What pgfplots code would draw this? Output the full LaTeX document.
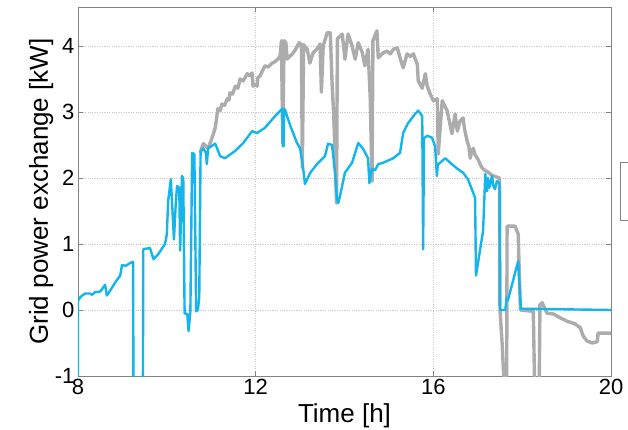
\documentclass[border=0pt]{standalone}
\usepackage{pgfplots}
\pgfplotsset{compat=1.18}
\usepackage{fontspec}
\setmainfont{Liberation Sans}
\definecolor{cblue}{RGB}{20,180,236}
\definecolor{cgray}{RGB}{172,172,172}
\definecolor{cframe}{RGB}{130,130,130}
\begin{document}
\begin{tikzpicture}
\useasboundingbox (-78pt,-53pt) rectangle (550pt,376pt);
\begin{axis}[
  name=ax,
  at={(0,0)}, anchor=south west,
  scale only axis, width=533pt, height=369pt,
  xmin=8, xmax=20, ymin=-1, ymax=4.59,
  xtick={8,12,16,20}, ytick={-1,0,1,2,3,4},
  grid=major,
  major grid style={dotted, gray!45, line width=0.6pt},
  axis line style={cframe, line width=0.8pt},
  tick style={cframe, line width=0.8pt},
  tick align=inside, major tick length=5pt,
  ticklabel style={font=\fontsize{22}{22}\selectfont, text=black},
  /pgf/number format/assume math mode=true,
  xlabel={Time [h]},
  ylabel={Grid power exchange [kW]},
  label style={font=\fontsize{26}{26}\selectfont},
  xlabel style={at={([yshift=-46pt]axis description cs:0.5,0)}, anchor=base},
  ylabel style={at={([xshift=-30pt]axis description cs:0,0.5)}, anchor=base, rotate=0},
  clip=true,
]
\addplot[cgray, line width=3.4pt, line join=round] coordinates {
(10.75,2.38) (10.82,2.52) (10.93,2.45) (11.02,2.61) (11.09,2.76) (11.15,3.05)
(11.20,3.02) (11.24,3.12) (11.30,3.10) (11.36,3.20) (11.40,3.18) (11.42,3.29)
(11.48,3.27) (11.54,3.39) (11.60,3.36) (11.65,3.50) (11.72,3.47) (11.81,3.58)
(11.86,3.55) (11.92,3.59) (11.94,3.39) (12.00,3.42) (12.03,3.39) (12.05,3.52)
(12.10,3.55) (12.15,3.62) (12.21,3.70) (12.28,3.68) (12.37,3.74) (12.43,3.76)
(12.50,3.80) (12.55,3.85) (12.58,4.08) (12.61,2.52) (12.64,4.08) (12.68,4.05) (12.71,3.80)
(12.78,3.85) (12.84,3.89) (12.90,3.95) (12.98,4.05) (13.03,4.02) (13.05,2.15) (13.08,4.02) (13.16,3.95)
(13.22,3.74) (13.29,3.89) (13.40,3.97) (13.45,4.03) (13.48,3.30) (13.52,4.00)
(13.61,4.20) (13.68,4.20) (13.72,3.44) (13.76,2.91) (13.82,1.62) (13.84,4.11)
(13.95,4.18) (14.01,3.80) (14.08,4.18) (14.17,4.00) (14.24,3.80) (14.31,4.05)
(14.40,3.90) (14.46,3.70) (14.53,3.95) (14.58,3.20) (14.62,1.95) (14.64,4.08)
(14.73,4.23) (14.76,3.82) (14.80,3.85) (14.88,3.90) (14.96,3.92) (15.03,3.88) (15.10,3.95) (15.19,3.97)
(15.25,3.82) (15.32,3.67) (15.41,3.88) (15.48,3.84) (15.55,3.88) (15.64,3.72) (15.66,3.47)
(15.75,3.36) (15.82,3.58) (15.86,3.40) (15.93,3.27) (16.00,3.17) (16.09,3.20)
(16.11,2.36) (16.20,3.17) (16.31,3.02) (16.42,2.67) (16.49,2.97) (16.54,2.71)
(16.60,2.86) (16.67,2.91) (16.70,2.75) (16.76,2.56) (16.80,2.48) (16.83,2.30)
(16.87,2.42) (16.90,2.45) (16.94,2.35) (16.99,2.30) (17.03,2.25) (17.05,2.21)
(17.10,2.15) (17.17,2.11) (17.25,2.08) (17.30,2.05) (17.40,2.02) (17.49,2.00)
(17.50,0.0) (17.55,-0.52)
(17.62,-1.5) (17.65,-1.5) (17.66,1.27) (17.84,1.27) (17.91,1.15) (17.96,0.0)
(18.25,-0.02) (18.29,-1.5) (18.38,-1.5) (18.40,0.08) (18.45,0.11) (18.56,-0.05)
(18.70,-0.06) (18.86,-0.12) (19.01,-0.17) (19.19,-0.21) (19.31,-0.27) (19.37,-0.39)
(19.46,-0.47) (19.58,-0.50) (19.69,-0.48) (19.71,-0.35) (20.0,-0.35)
};
\addplot[cblue, line width=2.4pt, line join=round] coordinates {
(8.00,-1.5) (8.00,0.14) (8.06,0.20) (8.16,0.25) (8.27,0.25) (8.32,0.23)
(8.38,0.27) (8.50,0.28) (8.61,0.38) (8.65,0.22) (8.72,0.29) (8.86,0.44)
(8.95,0.52) (8.99,0.68) (9.08,0.67) (9.17,0.71) (9.24,0.73) (9.25,-1.5)
(9.46,-1.5) (9.47,0.92) (9.62,0.94) (9.70,0.77) (9.80,0.84) (9.96,1.00)
(10.00,1.15) (10.03,1.65) (10.09,1.98) (10.16,1.07) (10.20,1.60) (10.23,1.88)
(10.28,1.85) (10.30,0.90) (10.34,2.03) (10.37,2.00) (10.40,-0.05) (10.46,-0.06)
(10.49,-0.32) (10.53,-0.02) (10.57,2.38) (10.62,2.36) (10.66,-0.02) (10.70,0.0)
(10.73,0.20) (10.76,2.40) (10.82,2.45) (10.88,2.38) (10.90,2.21) (10.93,2.45)
(11.09,2.52) (11.20,2.33) (11.31,2.30) (11.54,2.41) (11.72,2.53) (11.92,2.71)
(12.03,2.68) (12.21,2.76) (12.44,2.94) (12.60,3.05) (12.61,2.48) (12.63,2.48)
(12.64,3.05) (12.66,3.03) (12.78,2.79) (12.93,2.53) (13.00,2.45) (13.07,2.14)
(13.11,1.91) (13.23,2.08) (13.38,2.21) (13.56,2.33) (13.63,2.52) (13.72,2.50)
(13.79,2.06) (13.83,1.68) (13.86,1.62) (13.90,1.73) (14.01,2.08) (14.17,2.23)
(14.31,2.53) (14.42,2.44) (14.53,2.30) (14.56,1.92) (14.62,2.14) (14.69,2.12)
(14.76,2.21) (14.87,2.23) (15.10,2.30) (15.25,2.38) (15.32,2.68) (15.43,2.83)
(15.59,2.97) (15.66,3.02) (15.75,2.94) (15.77,0.92) (15.79,2.60) (15.86,2.64)
(15.97,2.61) (16.04,2.48) (16.08,2.03) (16.10,2.20) (16.15,2.23) (16.27,2.30)
(16.38,2.23) (16.54,2.14) (16.67,2.08) (16.78,1.98) (16.94,1.70) (16.96,0.52)
(17.12,1.20) (17.17,2.06) (17.21,1.80) (17.23,2.00) (17.26,1.85) (17.32,2.03)
(17.35,1.88) (17.39,1.83) (17.43,1.95) (17.49,1.92) (17.50,0.0) (17.62,0.0)
(17.65,0.18) (17.68,0.15) (17.91,0.74) (17.97,0.02) (20.0,0.0)
};
\end{axis}
\draw[cframe, line width=0.8pt, fill=white] (542pt,156pt) rectangle (620pt,214pt);
\end{tikzpicture}
\end{document}
